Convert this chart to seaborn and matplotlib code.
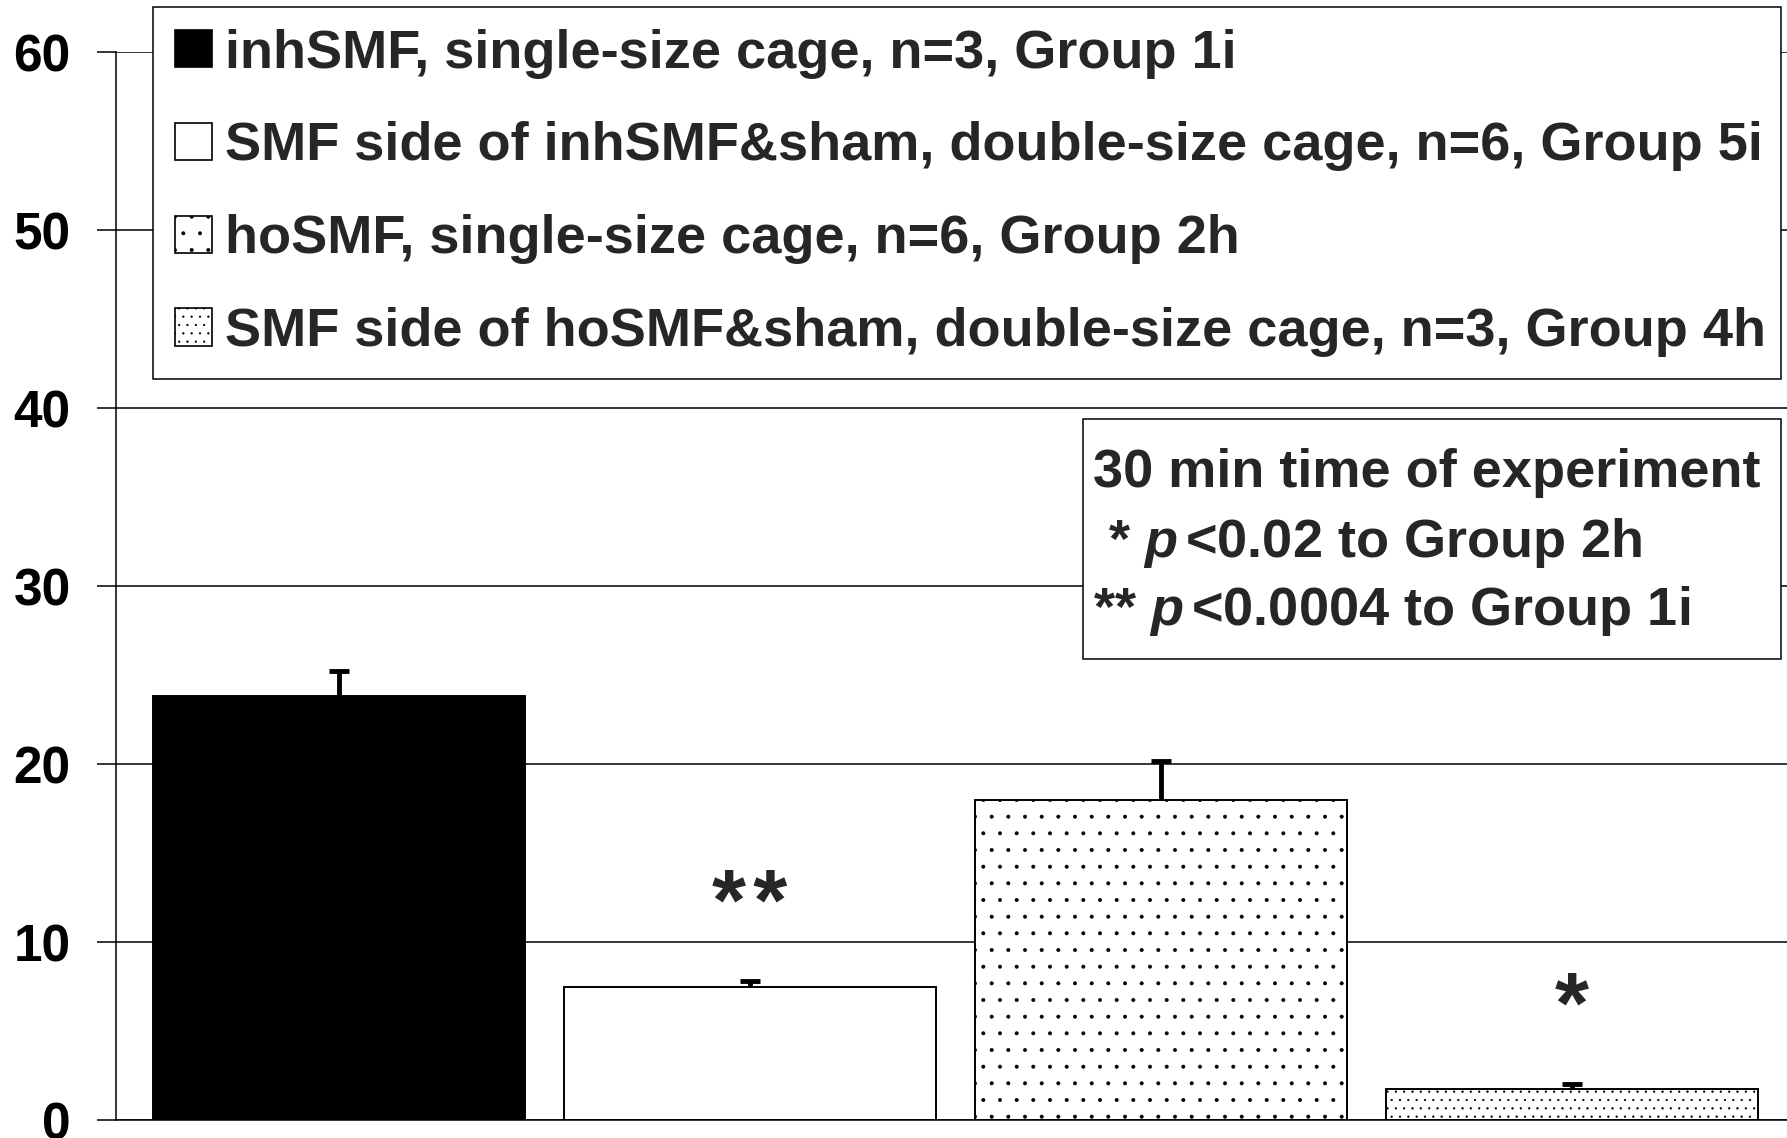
import matplotlib
matplotlib.use("Agg")
import matplotlib.pyplot as plt
import matplotlib.patches as mpatches
import numpy as np
import pandas as pd
import seaborn as sns

# ---- data -------------------------------------------------------------
groups = [
    "inhSMF, single-size cage, n=3, Group 1i",
    "SMF side of inhSMF&sham, double-size cage, n=6, Group 5i",
    "hoSMF, single-size cage, n=6, Group 2h",
    "SMF side of hoSMF&sham, double-size cage, n=3, Group 4h",
]
means = [23.8, 7.5, 18.0, 1.75]
sems = [1.45, 0.3, 2.15, 0.3]
signif = ["", "*\u200a*", "", "*"]
yticks = [0, 10, 20, 30, 40, 50, 60]
note_lines = [
    "30 min time of experiment",
    r" * $p\,$<0.02 to Group 2h",
    r"** $p\,$<0.0004 to Group 1i",
]

# ---- styling -----------------------------------------------------------
fills = ["black", "white", "white", "white"]
hatches = ["", "", ".", ".."]

sns.set_theme(style="white")
plt.rcParams["font.family"] = ["Liberation Sans", "DejaVu Sans"]
plt.rcParams["font.weight"] = "bold"
plt.rcParams["hatch.linewidth"] = 0.4
plt.rcParams["mathtext.fontset"] = "custom"
plt.rcParams["mathtext.it"] = "Liberation Sans:italic:bold"
plt.rcParams["mathtext.rm"] = "Liberation Sans:bold"

W, H = 1787, 1138
fig = plt.figure(figsize=(W / 100, H / 100), dpi=100)
ax = fig.add_axes([116 / W, 1 - 1120 / H, 1 - 116 / W, (1120 - 52) / H])

df = pd.DataFrame({"group": groups, "mean": means, "sem": sems})
sns.barplot(
    data=df, x="group", y="mean", hue="group", order=groups, hue_order=groups,
    palette=fills, saturation=1, edgecolor="black", linewidth=1.4,
    width=0.907, errorbar=None, legend=False, ax=ax,
)
for container, hatch in zip(ax.containers, hatches):
    for bar in container:
        bar.set_hatch(hatch)

# one-sided (upper) error bars
xpos = np.arange(len(groups))
eb = ax.errorbar(xpos, means, yerr=[np.zeros(len(sems)), sems], fmt="none",
                 ecolor="black", elinewidth=3.5, capsize=7, capthick=3.5, zorder=3)
for cap in eb[1]:
    if np.allclose(cap.get_ydata(), means):
        cap.set_visible(False)

# significance marks above the error bars
for x, m, s, mark in zip(xpos, means, sems, signif):
    if mark:
        ax.text(x, m + s + 2.85, mark, ha="center", va="baseline",
                fontsize=63, fontweight="bold",
                family=["Liberation Sans", "DejaVu Sans"])

# axes
ax.set_xlim(-0.5426, 3.523)
ax.set_ylim(0, 60)
ax.set_yticks(yticks)
ax.set_yticklabels([str(t) for t in yticks], fontsize=37, fontweight="bold")
ax.set_xticks([])
ax.set_xlabel("")
ax.set_ylabel("")
ax.tick_params(axis="y", direction="out", length=13.7, width=1.1, pad=19,
               colors="black", left=True)
ax.yaxis.grid(True, color="black", linewidth=1.1)
ax.set_axisbelow(True)
for side in ["top", "right"]:
    ax.spines[side].set_visible(False)
for side in ["left", "bottom"]:
    ax.spines[side].set_color("black")
    ax.spines[side].set_linewidth(1.1)

# legend
handles = [mpatches.Patch(facecolor=f, edgecolor="black", hatch=h, linewidth=1.2)
           for f, h in zip(fills, hatches)]
leg = fig.legend(
    handles, groups, loc="upper left",
    bbox_to_anchor=(153 / W, 1 - 7 / H, (1781 - 153) / W, 0),
    bbox_transform=fig.transFigure, mode="expand", borderaxespad=0,
    prop={"family": "Liberation Sans", "weight": "bold", "size": 39},
    handlelength=0.68, handleheight=0.68, handletextpad=0.25,
    borderpad=0.4, labelspacing=0.79, fancybox=False, framealpha=1,
    edgecolor="black",
)
leg.get_frame().set_linewidth(1.1)

# note box
box = mpatches.Rectangle((1083 / W, 1 - 659 / H), (1781 - 1083) / W, (659 - 419) / H,
                         transform=fig.transFigure, facecolor="white",
                         edgecolor="black", linewidth=1.1, zorder=2)
fig.add_artist(box)
for line, base in zip(note_lines, [487, 557, 625]):
    fig.text(1093 / W, 1 - base / H, line, ha="left", va="baseline",
             family="Liberation Sans", fontweight="bold", fontsize=39, zorder=3)

fig.savefig("out.png", dpi=100, facecolor="white")
